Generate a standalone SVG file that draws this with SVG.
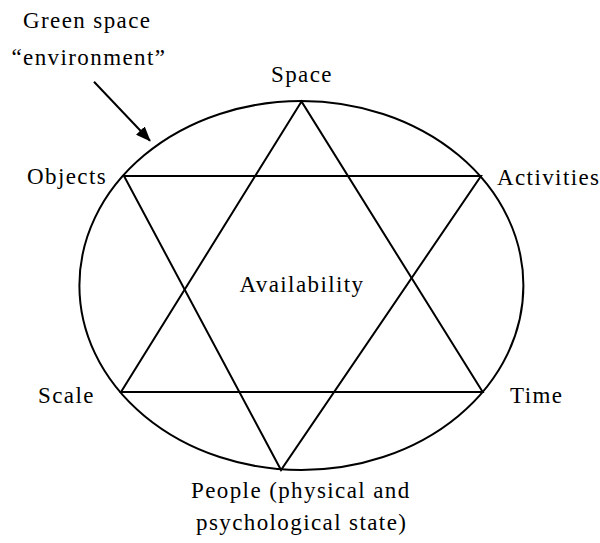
<svg xmlns="http://www.w3.org/2000/svg" width="600" height="543" viewBox="0 0 600 543">
<style>
text{font-family:"Liberation Serif","Times New Roman",serif;font-size:23px;fill:#000;letter-spacing:1.4px}
.ln{fill:none;stroke:#000;stroke-width:2}
</style>
<defs>
<marker id="ah" markerWidth="15" markerHeight="12" refX="14" refY="6" orient="auto" markerUnits="userSpaceOnUse" viewBox="0 0 15 12">
<path d="M0,0 L15,6 L0,12 z" fill="#000"/>
</marker>
</defs>
<rect width="600" height="543" fill="#fff"/>
<g id="connectors">
<ellipse class="ln" cx="301.4" cy="285.5" rx="222" ry="184.5"/>
<polygon class="ln" points="301.5,101.5 121,392 482.7,392"/>
<polygon class="ln" points="124,176 481,176 281,470"/>
<line x1="94" y1="81.7" x2="150" y2="140.7" stroke="#000" stroke-width="2" marker-end="url(#ah)"/>
</g>
<g id="label-green"><text x="23" y="28">Green space</text><text x="11.5" y="65">“environment”</text></g>
<g id="node-space"><text x="271" y="82">Space</text></g>
<g id="node-objects"><text x="27" y="184">Objects</text></g>
<g id="node-activities"><text x="497" y="185">Activities</text></g>
<g id="node-scale"><text x="38" y="403">Scale</text></g>
<g id="node-time"><text x="510" y="403">Time</text></g>
<g id="node-people"><text x="191" y="498">People (physical and</text><text x="196" y="530">psychological state)</text></g>
<g id="node-availability"><text x="239.5" y="292">Availability</text></g>
</svg>
